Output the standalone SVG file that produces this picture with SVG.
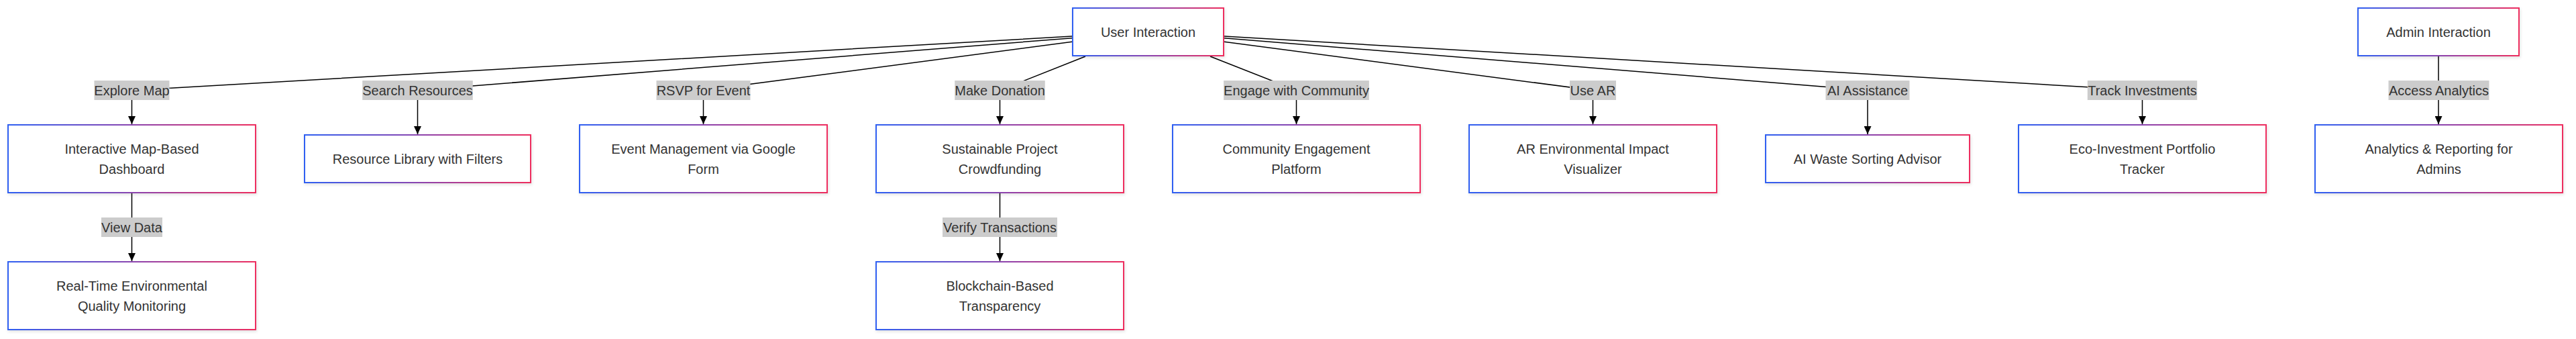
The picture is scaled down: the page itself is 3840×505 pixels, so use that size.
<svg xmlns="http://www.w3.org/2000/svg" width="3840" height="505" viewBox="0 0 3840 505">
<defs>
<linearGradient id="g" x1="0" y1="0" x2="1" y2="0">
<stop offset="0" stop-color="#2f5ff2"/>
<stop offset="0.5" stop-color="#8a45b0"/>
<stop offset="1" stop-color="#ee2d5e"/>
</linearGradient>
<filter id="sh" x="-5%" y="-10%" width="110%" height="130%">
<feDropShadow dx="1" dy="2" stdDeviation="2" flood-color="#000" flood-opacity="0.12"/>
</filter>
<marker id="arr" viewBox="0 0 12 11" refX="12" refY="5.5" markerWidth="12" markerHeight="11" markerUnits="userSpaceOnUse" orient="auto">
<path d="M0,0 L12,5.5 L0,11 z" fill="#000"/>
</marker>
</defs>
<style>
.node rect{fill:#fff;stroke:url(#g);stroke-width:2;filter:url(#sh)}
text{font-family:"Liberation Sans",Arial,sans-serif;font-size:20px;fill:#333;text-anchor:middle;dominant-baseline:central}
.edges path{fill:none;stroke:#000;stroke-width:1.5;marker-end:url(#arr)}
.lbl rect{fill:#cccccc}
</style>
<rect width="3840" height="505" fill="#fff"/>
<g class="edges" id="connectors">
<path d="M1598,54 L196.5,134.5 L196.5,185"/>
<path d="M1598,56.7 L622.5,134.5 L622.5,200"/>
<path d="M1598,62.3 L1048.5,134.5 L1048.5,185"/>
<path d="M1618,84 L1490.5,134.5 L1490.5,185"/>
<path d="M1804,84 L1932.5,134.5 L1932.5,185"/>
<path d="M1825,62.3 L2374.5,134.5 L2374.5,185"/>
<path d="M1825,56.7 L2784,134.5 L2784,200"/>
<path d="M1825,54 L3193.5,134.5 L3193.5,185"/>
<path d="M3635,84 L3635,185"/>
<path d="M196.5,288 L196.5,389"/>
<path d="M1490.5,288 L1490.5,389"/>
</g>
<g class="lbl" id="edge-labels">
<g><rect x="140.5" y="120" width="112" height="29"/><text x="196.5" y="134.5">Explore Map</text></g>
<g><rect x="540.25" y="120" width="164.5" height="29"/><text x="622.5" y="134.5">Search Resources</text></g>
<g><rect x="978.5" y="120" width="140" height="29"/><text x="1048.5" y="134.5">RSVP for Event</text></g>
<g><rect x="1423.25" y="120" width="134.5" height="29"/><text x="1490.5" y="134.5">Make Donation</text></g>
<g><rect x="1824.15" y="120" width="216.7" height="29"/><text x="1932.5" y="134.5">Engage with Community</text></g>
<g><rect x="2340" y="120" width="69" height="29"/><text x="2374.5" y="134.5">Use AR</text></g>
<g><rect x="2721.5" y="120" width="125" height="29"/><text x="2784" y="134.5">AI Assistance</text></g>
<g><rect x="3111.8" y="120" width="163.4" height="29"/><text x="3193.5" y="134.5">Track Investments</text></g>
<g><rect x="3560.5" y="120" width="150" height="29"/><text x="3635.5" y="134.5">Access Analytics</text></g>
<g><rect x="151" y="324" width="91" height="29"/><text x="196.5" y="338.5">View Data</text></g>
<g><rect x="1405" y="324" width="171" height="29"/><text x="1490.5" y="338.5">Verify Transactions</text></g>
</g>
<g class="node" id="user-interaction"><rect x="1599" y="12" width="225" height="71"/><text x="1711.5" y="47.5">User Interaction</text></g>
<g class="node" id="admin-interaction"><rect x="3515" y="12" width="240" height="71"/><text x="3635" y="47.5">Admin Interaction</text></g>
<g class="node" id="map-dashboard"><rect x="12" y="186" width="369" height="101"/><text x="196.5" y="221.5">Interactive Map-Based</text><text x="196.5" y="251.5">Dashboard</text></g>
<g class="node" id="resource-library"><rect x="454" y="201" width="337" height="71"/><text x="622.5" y="236.5">Resource Library with Filters</text></g>
<g class="node" id="event-management"><rect x="864" y="186" width="369" height="101"/><text x="1048.5" y="221.5">Event Management via Google</text><text x="1048.5" y="251.5">Form</text></g>
<g class="node" id="crowdfunding"><rect x="1306" y="186" width="369" height="101"/><text x="1490.5" y="221.5">Sustainable Project</text><text x="1490.5" y="251.5">Crowdfunding</text></g>
<g class="node" id="community"><rect x="1748" y="186" width="369" height="101"/><text x="1932.5" y="221.5">Community Engagement</text><text x="1932.5" y="251.5">Platform</text></g>
<g class="node" id="ar-visualizer"><rect x="2190" y="186" width="369" height="101"/><text x="2374.5" y="221.5">AR Environmental Impact</text><text x="2374.5" y="251.5">Visualizer</text></g>
<g class="node" id="ai-waste"><rect x="2632" y="201" width="304" height="71"/><text x="2784" y="236.5">AI Waste Sorting Advisor</text></g>
<g class="node" id="eco-investment"><rect x="3009" y="186" width="369" height="101"/><text x="3193.5" y="221.5">Eco-Investment Portfolio</text><text x="3193.5" y="251.5">Tracker</text></g>
<g class="node" id="analytics"><rect x="3451" y="186" width="369" height="101"/><text x="3635.5" y="221.5">Analytics &amp; Reporting for</text><text x="3635.5" y="251.5">Admins</text></g>
<g class="node" id="realtime-monitoring"><rect x="12" y="390" width="369" height="101"/><text x="196.5" y="425.5">Real-Time Environmental</text><text x="196.5" y="455.5">Quality Monitoring</text></g>
<g class="node" id="blockchain"><rect x="1306" y="390" width="369" height="101"/><text x="1490.5" y="425.5">Blockchain-Based</text><text x="1490.5" y="455.5">Transparency</text></g>
</svg>
